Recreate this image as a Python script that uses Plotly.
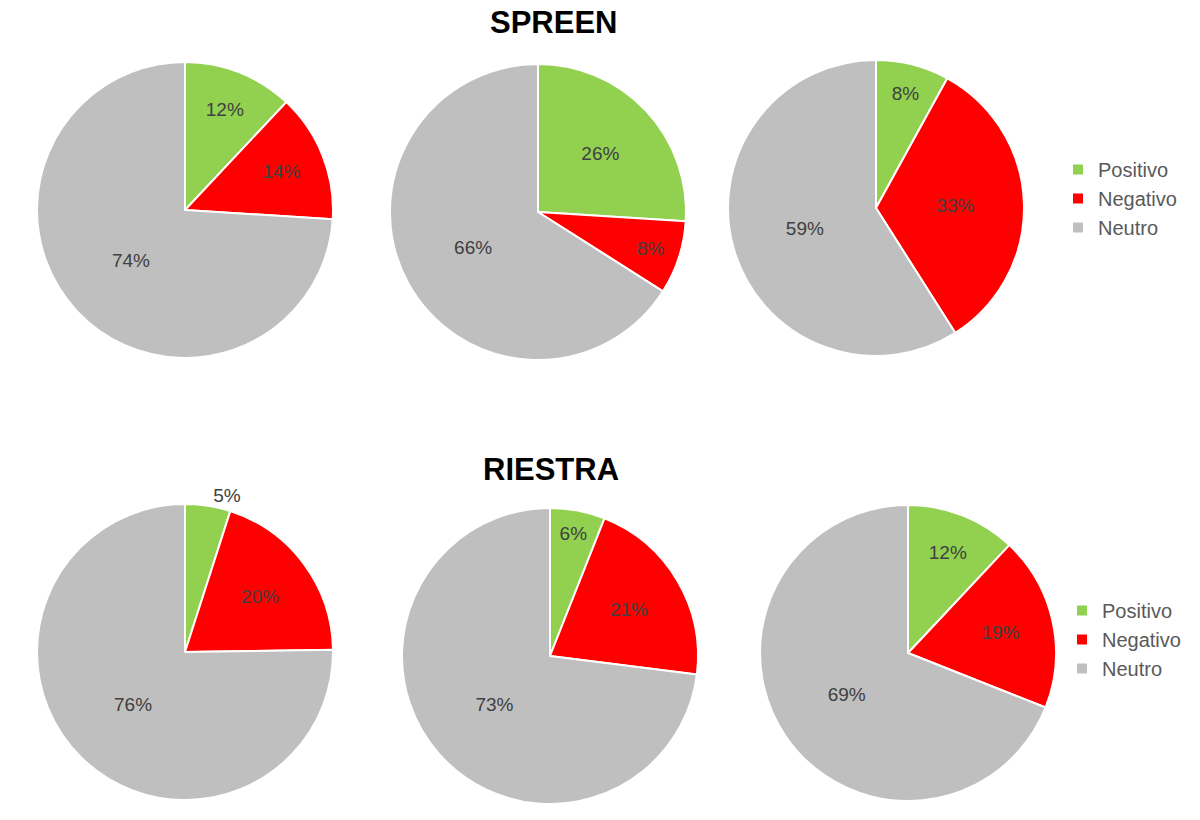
import plotly.graph_objects as go

labels = ["Positivo", "Negativo", "Neutro"]
colors = ["#92D050", "#FF0000", "#BFBFBF"]

spreen_1 = [12, 14, 74]
spreen_2 = [26, 8, 66]
spreen_3 = [8, 33, 59]
riestra_1 = [5, 20, 76]
riestra_2 = [6, 21, 73]
riestra_3 = [12, 19, 69]

W, H = 1200, 820

# (values, center x px, center y px, legend, group, textpositions)
pies = [
    (spreen_1, 185, 210, "legend", "s", "inside"),
    (spreen_2, 538, 212, None, "s", "inside"),
    (spreen_3, 876, 208, None, "s", "inside"),
    (riestra_1, 185, 652, "legend2", "r", ["outside", "inside", "inside"]),
    (riestra_2, 550, 656, None, "r", "inside"),
    (riestra_3, 908, 653, None, "r", "inside"),
]

R = 148

fig = go.Figure()
for vals, cx, cy, leg, grp, tpos in pies:
    fig.add_trace(go.Pie(
        labels=labels,
        values=vals,
        text=[f"{v}%" for v in vals],
        textinfo="text",
        textposition=tpos,
        insidetextorientation="horizontal",
        sort=False,
        direction="clockwise",
        rotation=0,
        marker=dict(colors=colors, line=dict(color="white", width=2)),
        textfont=dict(family="Liberation Sans, Arial", size=19, color="#404040"),
        outsidetextfont=dict(family="Liberation Sans, Arial", size=19, color="#404040"),
        domain=dict(x=[(cx - R) / W, (cx + R) / W],
                    y=[1 - (cy + R) / H, 1 - (cy - R) / H]),
        showlegend=leg is not None,
        legend=leg if leg else ("legend" if grp == "s" else "legend2"),
        legendgroup=grp,
        hoverinfo="label+text",
    ))

legend_style = dict(
    font=dict(family="Liberation Sans, Arial", size=20, color="#595959"),
    bgcolor="rgba(0,0,0,0)",
    itemwidth=30,
    tracegroupgap=0,
    xanchor="left",
    yanchor="top",
)

fig.update_layout(
    width=W, height=H,
    margin=dict(l=0, r=0, t=0, b=0),
    paper_bgcolor="white",
    plot_bgcolor="white",
    legend=dict(x=1058 / W, y=1 - 150 / H, **legend_style),
    legend2=dict(x=1062 / W, y=1 - 591 / H, **legend_style),
    annotations=[
        dict(text="<b>SPREEN</b>", x=553 / W, y=1 - 22 / H, xref="paper", yref="paper",
             yanchor="middle", showarrow=False,
             font=dict(family="Liberation Sans, Arial", size=31, color="#000000")),
        dict(text="<b>RIESTRA</b>", x=551 / W, y=1 - 470 / H, xref="paper", yref="paper",
             yanchor="middle", showarrow=False,
             font=dict(family="Liberation Sans, Arial", size=31, color="#000000")),
    ],
)

fig.write_html("out.html")
